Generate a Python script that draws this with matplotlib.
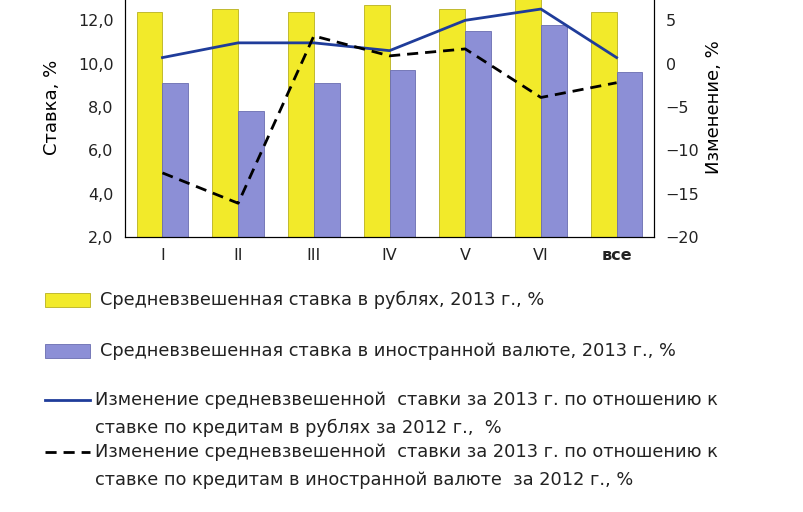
import numpy as np
import matplotlib.pyplot as plt
from matplotlib.patches import Rectangle
from matplotlib.lines import Line2D

categories = ["I", "II", "III", "IV", "V", "VI", "все"]
rub_rate = [12.4, 12.5, 12.4, 12.7, 12.5, 13.2, 12.4]
fx_rate = [9.1, 7.8, 9.1, 9.7, 11.5, 11.8, 9.6]
rub_change = [0.7, 2.4, 2.4, 1.5, 5.0, 6.3, 0.7]
fx_change = [-12.6, -16.1, 3.2, 0.9, 1.7, -3.9, -2.2]

yellow = "#f2ea2a"
blue = "#8c8fd6"
navy = "#1f3c9a"

fig = plt.figure(figsize=(8.04, 5.12), dpi=100, facecolor="white")
ax = fig.add_axes([0.155, 0.537, 0.659, 0.508])
x = np.arange(len(categories))
w = 0.34
ax.bar(x - w / 2, rub_rate, w, color=yellow, edgecolor="#b8b020", linewidth=0.6)
ax.bar(x + w / 2, fx_rate, w, color=blue, edgecolor="#6a6db0", linewidth=0.6)
ax.set_xlim(-0.5, len(categories) - 0.5)
ax.set_ylim(2, 14)
ax.set_yticks([2, 4, 6, 8, 10, 12])
ax.set_yticklabels(["2,0", "4,0", "6,0", "8,0", "10,0", "12,0"])
ax.set_xticks(x)
ax.set_xticklabels(categories)
ax.get_xticklabels()[-1].set_fontweight("bold")
ax.tick_params(labelsize=11.5, colors="#222222", length=0, pad=8)
ax.set_ylabel("Ставка, %", fontsize=13, labelpad=12)
ax.spines["top"].set_visible(False)

ax2 = ax.twinx()
ax2.plot(x, rub_change, color=navy, lw=2)
ax2.plot(x, fx_change, color="black", lw=2, ls=(0, (4, 2.5)))
ax2.set_ylim(-20, 10)
ax2.set_yticks([-20, -15, -10, -5, 0, 5])
ax2.tick_params(labelsize=11.5, colors="#222222", length=0, pad=8)
ax2.set_ylabel("Изменение, %", fontsize=13)
ax2.spines["top"].set_visible(False)

fs = 12.8
def px(xp, yp):
    return xp / 804, 1 - yp / 512

for yp, col, ec, txt in [(300, yellow, "#b8b020", "Средневзвешенная ставка в рублях, 2013 г., %"),
                         (351, blue, "#6a6db0", "Средневзвешенная ставка в иностранной валюте, 2013 г., %")]:
    x0, y0 = px(45, yp + 7)
    fig.patches.append(Rectangle((x0, y0), 45 / 804, 14 / 512, transform=fig.transFigure,
                                 facecolor=col, edgecolor=ec, lw=0.6))
    fig.text(*px(100, yp), txt, fontsize=fs, va="center", color="#222222")

for yp, col, ls, lines in [(400, navy, "-", ["Изменение средневзвешенной  ставки за 2013 г. по отношению к",
                                             "ставке по кредитам в рублях за 2012 г.,  %"]),
                           (452, "black", (0, (4, 2.5)), ["Изменение средневзвешенной  ставки за 2013 г. по отношению к",
                                                          "ставке по кредитам в иностранной валюте  за 2012 г., %"])]:
    (xa, ya), (xb, _) = px(45, yp), px(90, yp)
    fig.lines.append(Line2D([xa, xb], [ya, ya], transform=fig.transFigure, color=col, lw=2, ls=ls))
    fig.text(*px(95, yp), lines[0], fontsize=fs, va="center", color="#222222")
    fig.text(*px(95, yp + 28), lines[1], fontsize=fs, va="center", color="#222222")

fig.savefig("out.png", dpi=100)
